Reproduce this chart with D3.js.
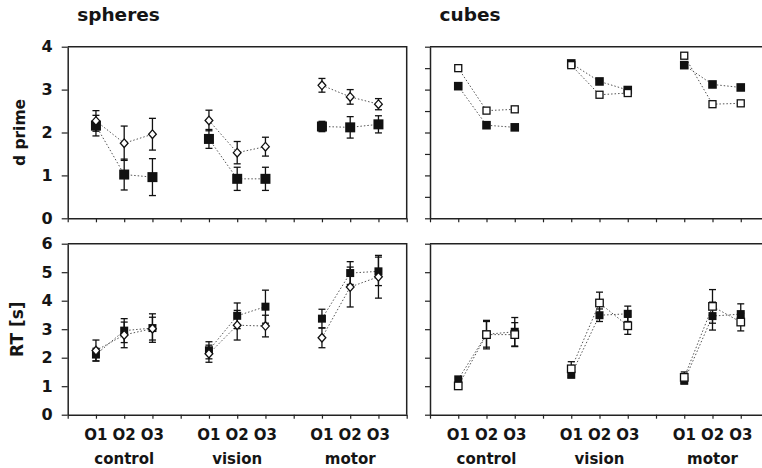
<!DOCTYPE html>
<html>
<head>
<meta charset="utf-8">
<script src="https://cdn.jsdelivr.net/npm/d3@7"></script>
<style>
body { margin: 0; background: #fff; }
text { font-family: "DejaVu Sans", sans-serif; font-weight: bold; fill: #151515; }
</style>
</head>
<body>
<svg id="chart" width="762" height="468"></svg>
<script>
var conditions = ["control", "vision", "motor"];
var orders = ["O1", "O2", "O3"];
var titles = ["spheres", "cubes"];

// d prime, spheres
var dpSphFill = [2.16, 1.02, 0.96, 1.85, 0.92, 0.92, 2.14, 2.12, 2.19];
var dpSphFillErr = [0.24, 0.36, 0.43, 0.22, 0.27, 0.27, 0.12, 0.25, 0.2];
var dpSphOpen = [2.27, 1.75, 1.96, 2.28, 1.53, 1.67, 3.10, 2.83, 2.66];
var dpSphOpenErr = [0.24, 0.4, 0.37, 0.24, 0.26, 0.22, 0.16, 0.17, 0.13];
// d prime, cubes (no error bars shown)
var dpCubFill = [3.08, 2.17, 2.12, 3.61, 3.19, 2.99, 3.57, 3.12, 3.05];
var dpCubOpen = [3.50, 2.51, 2.54, 3.57, 2.88, 2.92, 3.79, 2.66, 2.68];
// RT, spheres
var rtSphFill = [2.11, 2.95, 3.04, 2.26, 3.47, 3.79, 3.37, 4.97, 5.03];
var rtSphFillErr = [0.22, 0.42, 0.5, 0.3, 0.45, 0.58, 0.33, 0.4, 0.5];
var rtSphOpen = [2.25, 2.80, 3.02, 2.14, 3.14, 3.11, 2.70, 4.48, 4.84];
var rtSphOpenErr = [0.37, 0.45, 0.4, 0.3, 0.52, 0.38, 0.35, 0.7, 0.75];
// RT, cubes
var rtCubFill = [1.24, 2.82, 2.91, 1.40, 3.49, 3.54, 1.19, 3.46, 3.53];
var rtCubFillErr = [0, 0.45, 0.5, 0.1, 0.22, 0.27, 0.1, 0.49, 0.36];
var rtCubOpen = [1.01, 2.81, 2.81, 1.61, 3.92, 3.12, 1.31, 3.80, 3.25];
var rtCubOpenErr = [0, 0.5, 0.42, 0.25, 0.38, 0.3, 0.19, 0.59, 0.31];

var dpTicks = [0, 1, 2, 3, 4];
var dpTicksFine = [0, 0.5, 1, 1.5, 2, 2.5, 3, 3.5, 4];
var rtTicks = [0, 1, 2, 3, 4, 5, 6];

var svg = d3.select("#chart");
var panelW = 339;
var colX = [67.7, 430];
var rowY = [[46.7, 218.3], [243.7, 414.7]];

function slotOf(i) { // 9 points -> slots 1,2,3,5,6,7,9,10,11 of 0..12
	return 1 + Math.floor(i / 3) * 4 + (i % 3);
}

function panel(o) {
	var x = d3.scaleLinear().domain([0, 12]).range([colX[o.col], colX[o.col] + panelW]);
	var y = d3.scaleLinear().domain(o.domain).range([rowY[o.row][1], rowY[o.row][0]]);
	var g = svg.append("g");

	// frame: top and right
	g.append("path")
		.attr("d", "M" + x(0) + "," + y(o.domain[1]) + "H" + x(12) + "V" + y(0))
		.attr("fill", "none").attr("stroke", "#222").attr("stroke-width", 1.5);

	var ax = g.append("g")
		.attr("transform", "translate(0," + y(0) + ")")
		.call(d3.axisBottom(x).tickValues(d3.range(13)).tickSize(4).tickFormat("").tickSizeOuter(0));
	var ay = g.append("g")
		.attr("transform", "translate(" + x(0) + ",0)")
		.call(d3.axisLeft(y).tickValues(o.ticks).tickSize(o.col ? 5 : 6).tickPadding(9).tickSizeOuter(0)
			.tickFormat(o.col ? "" : d3.format("d")));
	g.selectAll(".domain").attr("stroke", "#222").attr("stroke-width", 1.5);
	g.selectAll(".tick line").attr("stroke", "#222").attr("stroke-width", 1.2);
	ay.selectAll("text").attr("font-size", 16).style("font-family", "DejaVu Sans").style("font-weight", "bold").attr("fill", "#151515");

	var series = [
		{v: o.fill, e: o.fillErr, open: false},
		{v: o.open, e: o.openErr, open: true}
	];

	// dotted connectors, per group
	series.forEach(function(s) {
		for (var k = 0; k < 3; ++k) {
			var pts = d3.range(k * 3, k * 3 + 3);
			g.append("path")
				.attr("d", d3.line()
					.x(function(i) { return x(slotOf(i)); })
					.y(function(i) { return y(s.v[i]); })(pts))
				.attr("fill", "none")
				.attr("stroke", "#555")
				.attr("stroke-width", 1)
				.attr("stroke-dasharray", "1.5,2");
		}
	});

	// error bars
	series.forEach(function(s) {
		if (!s.e) return;
		s.v.forEach(function(v, i) {
			if (!s.e[i]) return;
			var cx = x(slotOf(i));
			var eb = g.append("g").attr("stroke", "#111").attr("stroke-width", 1.3);
			eb.append("line").attr("x1", cx).attr("x2", cx)
				.attr("y1", y(v - s.e[i])).attr("y2", y(v + s.e[i]));
			[v - s.e[i], v + s.e[i]].forEach(function(t) {
				eb.append("line").attr("x1", cx - 3.5).attr("x2", cx + 3.5)
					.attr("y1", y(t)).attr("y2", y(t));
			});
		});
	});

	// markers: filled squares, then open markers on top
	series.forEach(function(s) {
		s.v.forEach(function(v, i) {
			var cx = x(slotOf(i)), cy = y(v);
			if (!s.open) {
				var h = o.fillSize / 2;
				g.append("rect").attr("x", cx - h).attr("y", cy - h)
					.attr("width", h * 2).attr("height", h * 2).attr("fill", "#111");
			} else if (o.diamond) {
				var r = 4.3;
				g.append("path")
					.attr("d", "M" + cx + "," + (cy - r) + "L" + (cx + r * 0.9) + "," + cy +
						"L" + cx + "," + (cy + r) + "L" + (cx - r * 0.9) + "," + cy + "Z")
					.attr("fill", "#fff").attr("stroke", "#111").attr("stroke-width", 1.3);
			} else {
				var q = o.openSize / 2;
				g.append("rect").attr("x", cx - q).attr("y", cy - q)
					.attr("width", q * 2).attr("height", q * 2)
					.attr("fill", "#fff").attr("stroke", "#111").attr("stroke-width", 1.3);
			}
		});
	});

	if (o.row == 1) {
		d3.range(9).forEach(function(i) {
			g.append("text")
				.attr("x", x(slotOf(i))).attr("y", 439.5)
				.attr("text-anchor", "middle").attr("font-size", 15)
				.text(orders[i % 3]);
		});
		conditions.forEach(function(c, k) {
			g.append("text")
				.attr("x", x(k * 4 + 2)).attr("y", 463.5)
				.attr("text-anchor", "middle").attr("font-size", 15)
				.text(c);
		});
	} else {
		g.append("text")
			.attr("x", x(0) + 9.5).attr("y", 20.7)
			.attr("font-size", 18.5)
			.text(titles[o.col]);
	}
}

panel({row: 0, col: 0, domain: [0, 4], ticks: dpTicks, fill: dpSphFill, fillErr: dpSphFillErr,
	open: dpSphOpen, openErr: dpSphOpenErr, diamond: true, fillSize: 10});
panel({row: 0, col: 1, domain: [0, 4], ticks: dpTicksFine, fill: dpCubFill, fillErr: null,
	open: dpCubOpen, openErr: null, diamond: false, fillSize: 8.6, openSize: 7});
panel({row: 1, col: 0, domain: [0, 6], ticks: rtTicks, fill: rtSphFill, fillErr: rtSphFillErr,
	open: rtSphOpen, openErr: rtSphOpenErr, diamond: true, fillSize: 8});
panel({row: 1, col: 1, domain: [0, 6], ticks: rtTicks, fill: rtCubFill, fillErr: rtCubFillErr,
	open: rtCubOpen, openErr: rtCubOpenErr, diamond: false, fillSize: 8, openSize: 7.5});

// y axis titles
svg.append("text")
	.attr("transform", "translate(24.5," + ((rowY[0][0] + rowY[0][1]) / 2) + ") rotate(-90)")
	.attr("text-anchor", "middle").attr("font-size", 15.5)
	.text("d prime");
svg.append("text")
	.attr("transform", "translate(23," + ((rowY[1][0] + rowY[1][1]) / 2) + ") rotate(-90)")
	.attr("text-anchor", "middle").attr("font-size", 17)
	.text("RT [s]");
</script>
</body>
</html>
